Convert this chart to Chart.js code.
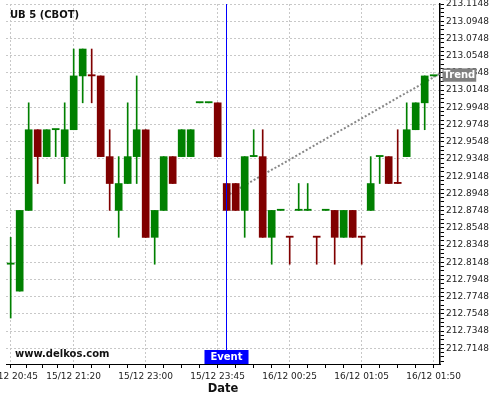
<!DOCTYPE html>
<html>
<head>
<meta charset="utf-8">
<script src="https://cdn.jsdelivr.net/npm/chart.js@4.4.0/dist/chart.umd.min.js"></script>
<style>
  html, body { margin: 0; padding: 0; background: #fff; }
  #wrap { width: 500px; height: 400px; }
</style>
</head>
<body>
<div id="wrap"><canvas id="chart"></canvas></div>
<script>
// ── Data (5 min candles, UB 5 CBOT) ─────────────────────────────────────────

const xLabels = ['15/12 20:45', '15/12 21:20', '15/12 23:00', '15/12 23:45', '16/12 00:25', '16/12 01:05', '16/12 01:50'];
const labelIdx = [0, 7, 15, 23, 31, 39, 47];

const opens = [
    212.8125, 212.78125, 212.875, 212.96875, 212.9375, 212.96875, 212.9375, 212.96875,
    213.03125, 213.03125, 213.03125, 212.9375, 212.875, 212.90625, 212.9375, 212.96875,
    212.84375, 212.875, 212.9375, 212.9375, 212.9375, 213.0, 213.0, 213.0,
    212.90625, 212.90625, 212.875, 212.9375, 212.9375, 212.84375, 212.875, 212.84375,
    212.875, 212.875, 212.84375, 212.875, 212.875, 212.84375, 212.875, 212.84375,
    212.875, 212.9375, 212.9375, 212.90625, 212.9375, 212.96875, 213.0, 213.03125,
];
const highs = [
    212.84375, 212.875, 213.0, 212.96875, 212.96875, 212.96875, 213.0, 213.0625,
    213.0625, 213.0625, 213.03125, 212.96875, 212.9375, 213.0, 213.03125, 212.96875,
    212.875, 212.9375, 212.9375, 212.96875, 212.96875, 213.0, 213.0, 213.0,
    212.90625, 212.90625, 212.9375, 212.96875, 212.96875, 212.875, 212.875, 212.84375,
    212.90625, 212.90625, 212.84375, 212.875, 212.875, 212.875, 212.875, 212.84375,
    212.9375, 212.9375, 212.9375, 212.96875, 213.0, 213.0, 213.03125, 213.03125,
];
const lows = [
    212.75, 212.78125, 212.875, 212.90625, 212.9375, 212.9375, 212.90625, 212.96875,
    213.0, 213.0, 212.9375, 212.875, 212.84375, 212.90625, 212.90625, 212.84375,
    212.8125, 212.875, 212.90625, 212.9375, 212.9375, 213.0, 213.0, 212.9375,
    212.875, 212.875, 212.84375, 212.9375, 212.84375, 212.8125, 212.875, 212.8125,
    212.875, 212.875, 212.8125, 212.875, 212.8125, 212.84375, 212.84375, 212.8125,
    212.875, 212.90625, 212.90625, 212.90625, 212.9375, 212.96875, 212.96875, 213.03125,
];
const closes = [
    212.8125, 212.875, 212.96875, 212.9375, 212.96875, 212.96875, 212.96875, 213.03125,
    213.0625, 213.03125, 212.9375, 212.90625, 212.90625, 212.9375, 212.96875, 212.84375,
    212.875, 212.9375, 212.90625, 212.96875, 212.96875, 213.0, 213.0, 212.9375,
    212.875, 212.875, 212.9375, 212.9375, 212.84375, 212.875, 212.875, 212.84375,
    212.875, 212.875, 212.84375, 212.875, 212.84375, 212.875, 212.84375, 212.84375,
    212.90625, 212.9375, 212.90625, 212.90625, 212.96875, 213.0, 213.03125, 213.03125,
];

const yTickVals = [
    212.7148, 212.7348, 212.7548, 212.7748, 212.7948, 212.8148, 212.8348,
    212.8548, 212.8748, 212.8948, 212.9148, 212.9348, 212.9548, 212.9748,
    212.9948, 213.0148, 213.0348, 213.0548, 213.0748, 213.0948, 213.1148,
];
const yMin = 212.6966;
const yMax = 213.1148;

const trendIdx = [24.3, 47.7];
const trendVals = [212.894, 213.034];
const eventIdx = 24;

// ── Styling ─────────────────────────────────────────────────────────────────

const GREEN = '#008000';
const RED = '#800000';
const GRID = '#c8c8c8';
const FONT = '"DejaVu Sans", sans-serif';

Chart.defaults.font.family = FONT;

// cor do candle: corpo pelo open/close, doji pelo fechamento anterior
const candleColors = [];
for (let i = 0; i < closes.length; i++) {
    let up;
    if (closes[i] > opens[i]) up = true;
    else if (closes[i] < opens[i]) up = false;
    else if (i === 0) up = true;
    else if (closes[i] > closes[i - 1]) up = true;
    else if (closes[i] < closes[i - 1]) up = false;
    else up = candleColors[i - 1] === GREEN;
    candleColors.push(up ? GREEN : RED);
}

// minor ticks: cada intervalo dividido em 4
function quarterTicks(majors) {
    const out = [];
    for (let i = 0; i < majors.length; i++) {
        out.push({ value: majors[i], major: true });
        if (i < majors.length - 1) {
            const step = (majors[i + 1] - majors[i]) / 4;
            for (let j = 1; j < 4; j++) out.push({ value: majors[i] + step * j, major: false });
        }
    }
    return out;
}

const overlay = {
    id: 'overlay',
    afterDraw(chart) {
        const { ctx, chartArea: a, scales: { x, y } } = chart;
        ctx.save();

        // linha do evento
        const ex = Math.round(x.getPixelForValue(eventIdx)) - 0.5;
        ctx.strokeStyle = '#0000ff';
        ctx.lineWidth = 1;
        ctx.beginPath();
        ctx.moveTo(ex, a.top);
        ctx.lineTo(ex, a.bottom);
        ctx.stroke();

        ctx.font = 'bold 10px ' + FONT;
        ctx.textBaseline = 'middle';
        ctx.textAlign = 'center';

        let w = ctx.measureText('Event').width + 12;
        ctx.fillStyle = '#0000ff';
        ctx.fillRect(ex - w / 2, a.bottom - 14, w, 14);
        ctx.fillStyle = '#fff';
        ctx.fillText('Event', ex, a.bottom - 6.5);

        // rótulo da tendência
        const ty = y.getPixelForValue(trendVals[1]) + 1.5;
        w = ctx.measureText('Trend').width + 2;
        ctx.fillStyle = '#808080';
        ctx.fillRect(a.right + 2.5, ty - 6.7, w, 13.4);
        ctx.fillStyle = '#fff';
        ctx.fillText('Trend', a.right + 2.5 + w / 2, ty + 0.5);

        // título e marca d'água
        ctx.textAlign = 'left';
        ctx.fillStyle = '#111';
        ctx.fillText('UB 5 (CBOT)', a.left + 4, a.top + 11.5);
        ctx.fillText('www.delkos.com', a.left + 9, a.bottom - 10);

        ctx.restore();
    },
};

// ── Chart ───────────────────────────────────────────────────────────────────

new Chart(document.getElementById('chart'), {
    type: 'bar',
    data: {
        datasets: [
            {
                type: 'line',
                data: trendIdx.map((t, i) => ({ x: t, y: trendVals[i] })),
                borderColor: '#888',
                borderWidth: 2,
                borderDash: [2, 2],
                pointRadius: 0,
                order: 3,
            },
            {
                data: highs.map((h, i) => ({ x: i, y: [lows[i], h] })),
                backgroundColor: candleColors,
                barThickness: 1,
                grouped: false,
                order: 2,
            },
            {
                data: opens.map((o, i) => ({ x: i, y: [o, closes[i]] })),
                backgroundColor: candleColors,
                barThickness: 7,
                minBarLength: 1.2,
                grouped: false,
                order: 1,
            },
        ],
    },
    options: {
        responsive: true,
        maintainAspectRatio: false,
        animation: false,
        devicePixelRatio: 1,
        layout: { padding: { left: 6, top: 4, right: 0, bottom: 0 } },
        plugins: {
            legend: { display: false },
            tooltip: { enabled: false },
        },
        scales: {
            x: {
                type: 'linear',
                min: -0.52,
                max: 47.7,
                offset: false,
                afterBuildTicks: (s) => { s.ticks = quarterTicks(labelIdx); },
                afterFit: (s) => { s.height = 36; s.paddingLeft = 0; s.paddingRight = 0; },
                ticks: {
                    autoSkip: false,
                    maxRotation: 0,
                    padding: 3,
                    color: '#222',
                    font: { size: 9 },
                    callback: (v, i, ticks) => ticks[i].major ? xLabels[labelIdx.indexOf(v)] : '',
                },
                grid: {
                    offset: false,
                    color: (c) => (c.tick && c.tick.major ? GRID : 'rgba(0,0,0,0)'),
                    tickColor: '#000',
                    tickLength: 4,
                },
                border: { color: '#000', width: 1, dash: [2, 2] },
                title: {
                    display: true,
                    text: 'Date',
                    color: '#111',
                    font: { size: 11.5, weight: 'bold' },
                    padding: { top: 4, bottom: 4 },
                },
            },
            y: {
                position: 'right',
                min: yMin,
                max: yMax,
                beginAtZero: false,
                afterBuildTicks: (s) => {
                    const t = quarterTicks(yTickVals);
                    const step = (yTickVals[1] - yTickVals[0]) / 4;
                    for (let j = 1; j < 4; j++) {
                        if (yTickVals[0] - step * j >= yMin) t.unshift({ value: yTickVals[0] - step * j, major: false });
                    }
                    s.ticks = t;
                },
                afterFit: (s) => { s.width = 60; s.paddingTop = 0; s.paddingBottom = 0; },
                ticks: {
                    autoSkip: false,
                    padding: 2,
                    color: '#222',
                    font: { size: 9 },
                    callback: (v, i, ticks) => ticks[i].major ? v.toFixed(4) : '',
                },
                grid: {
                    color: (c) => (c.tick && c.tick.major ? GRID : 'rgba(0,0,0,0)'),
                    tickColor: '#000',
                    tickLength: 4,
                },
                border: { color: '#000', width: 1.5, dash: [2, 2] },
            },
        },
    },
    plugins: [overlay],
});
</script>
</body>
</html>
